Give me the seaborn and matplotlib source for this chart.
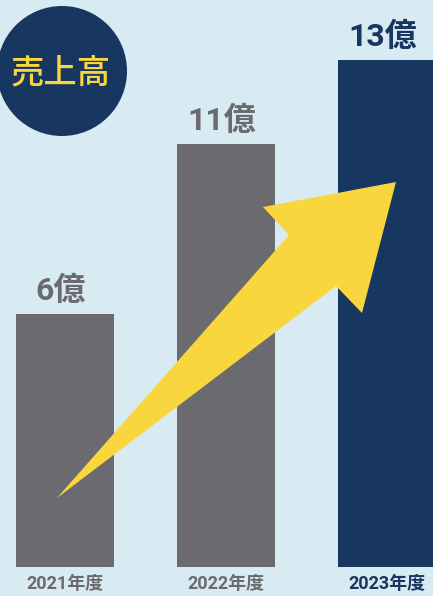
import matplotlib
matplotlib.use("Agg")
import matplotlib.pyplot as plt
from matplotlib.patches import Circle, Polygon
import seaborn as sns

# ---------------------------------------------------------------------
# Data
# ---------------------------------------------------------------------
years = ["2021", "2022", "2023"]
tick_labels = ["2021年度", "2022年度", "2023年度"]
sales = [6.5, 10.85, 13.0]            # bar heights as drawn (億)
value_labels = ["6億", "11億", "13億"]
title = "売上高"

BG = "#d8eaf2"
GRAY = "#6b6b6f"
NAVY = "#173660"
YELLOW = "#fad63e"
bar_colors = [GRAY, GRAY, NAVY]
NUM_FONT = ["Roboto", "Noto Sans CJK JP", "DejaVu Sans"]

sns.set_style("white")
plt.rcParams["font.family"] = ["Noto Sans CJK JP", "DejaVu Sans"]

W, H = 433, 596
fig = plt.figure(figsize=(W / 100, H / 100), dpi=100)
fig.patch.set_facecolor(BG)

# bar axes: bottom of bars sits 29 px above the figure bottom
ax = fig.add_axes([0, 29 / H, 1, (H - 29) / H])
ax.set_facecolor(BG)
sns.barplot(x=years, y=sales, hue=years, palette=bar_colors, width=0.609,
            saturation=1, legend=False, ax=ax, zorder=2,
            edgecolor="none", linewidth=0)
ax.set_xlim(-65 / 161, (W - 65) / 161)
ax.set_ylim(0, (H - 29) / 39)
ax.set_yticks([])
ax.set_xticks(range(len(years)))
ax.set_xticklabels(tick_labels, fontsize=13, fontweight="bold", family=NUM_FONT)
for lbl, c in zip(ax.get_xticklabels(), bar_colors):
    lbl.set_color(c)
ax.tick_params(axis="x", length=0, pad=6)
ax.set_xlabel("")
ax.set_ylabel("")
sns.despine(ax=ax, left=True, bottom=True)

for i, (v, txt) in enumerate(zip(sales, value_labels)):
    ax.annotate(txt, xy=(i, v), xytext=(-3, 10), textcoords="offset points",
                ha="center", va="baseline", fontsize=23, fontweight="bold",
                color=bar_colors[i], family=NUM_FONT, zorder=3)

# overlay in pixel coordinates for the decorations
ov = fig.add_axes([0, 0, 1, 1], facecolor="none")
ov.set_xlim(0, W)
ov.set_ylim(H, 0)
ov.axis("off")

arrow = [(57, 498), (289, 235), (263, 207), (396, 182),
         (362, 313), (336, 286)]
ov.add_patch(Polygon(arrow, closed=True, facecolor=YELLOW, edgecolor="none", zorder=4))

ov.add_patch(Circle((62, 71), 65, facecolor=NAVY, edgecolor="none", zorder=5))
ov.text(61, 73, title, ha="center", va="center", fontsize=24, fontweight="medium",
        color=YELLOW, zorder=6)

fig.savefig("out.png", dpi=100, facecolor=BG)
